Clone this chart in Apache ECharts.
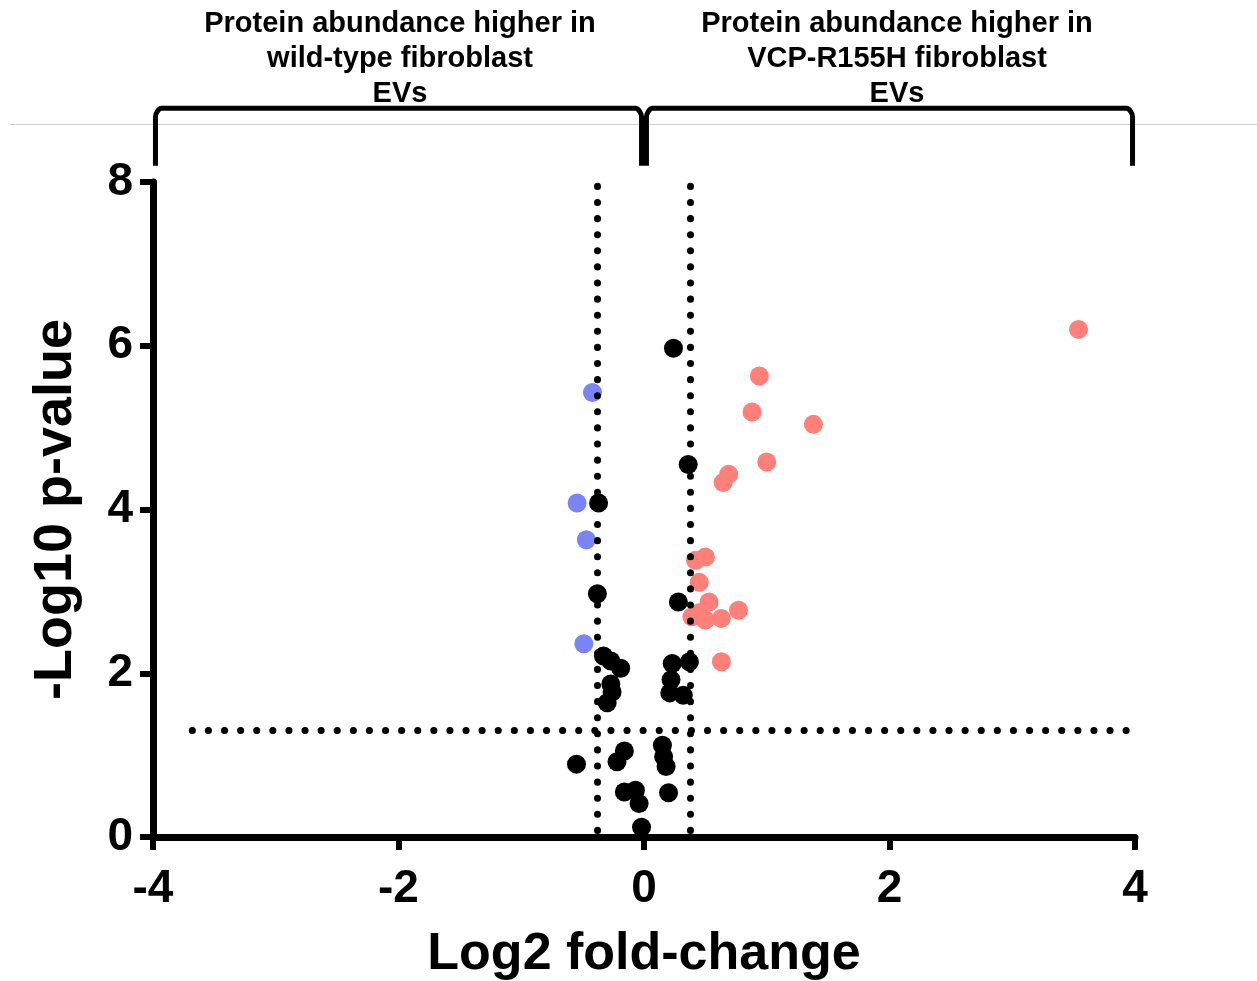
<!DOCTYPE html>
<html>
<head>
<meta charset="utf-8">
<script src="https://cdn.jsdelivr.net/npm/echarts@6/dist/echarts.min.js"></script>
<style>
  html, body { margin: 0; padding: 0; background: #ffffff; }
  #chart { width: 1257px; height: 981px; }
</style>
</head>
<body>
<div id="chart"></div>
<script>
// log2 fold-change / -log10 p-value
const upVCP = [
  [3.54, 6.20], [0.94, 5.63], [0.88, 5.19], [1.38, 5.04], [1.00, 4.58],
  [0.69, 4.43], [0.645, 4.33], [0.50, 3.42], [0.42, 3.38], [0.45, 3.11],
  [0.53, 2.87], [0.45, 2.74], [0.50, 2.65], [0.63, 2.67], [0.77, 2.77],
  [0.39, 2.69], [0.63, 2.14]
];
const upWT = [
  [-0.42, 5.43], [-0.545, 4.08], [-0.47, 3.63], [-0.49, 2.36]
];
const notSig = [
  [0.24, 5.97], [0.36, 4.55], [-0.37, 4.08], [-0.38, 2.97], [0.28, 2.87],
  [-0.33, 2.21], [-0.27, 2.15], [-0.19, 2.06], [-0.27, 1.87], [-0.26, 1.77],
  [-0.30, 1.64], [0.23, 2.12], [0.37, 2.14], [0.22, 1.92], [0.21, 1.76],
  [0.32, 1.73], [-0.55, 0.89], [-0.16, 1.05], [-0.22, 0.92], [-0.16, 0.55],
  [-0.07, 0.57], [-0.04, 0.41], [-0.02, 0.12], [0.15, 1.12], [0.16, 0.98],
  [0.18, 0.86], [0.20, 0.54]
];
// thresholds: fold-change 1.3 and p = 0.05
const fcCut = 0.378;
const pCut = 1.301;
const xTicks = [-4, 4, 2];   // min, max, interval
const yTicks = [0, 8, 2];

const leftHeader = 'Protein abundance higher in\nwild-type fibroblast\nEVs';
const rightHeader = 'Protein abundance higher in\nVCP-R155H fibroblast\nEVs';

const font = '"Liberation Sans", Arial, Helvetica, sans-serif';
const chart = echarts.init(document.getElementById('chart'), null, { renderer: 'canvas' });

const dotted = {
  color: '#000',
  width: 7,
  type: [0.1, 16],
  cap: 'round'
};

// bracket shapes in data units (above the plot)
const bTop = 8.9, bLow = 8.2;
const leftBracket = [[-3.98, bLow], [-3.98, bTop - 0.1], [-3.93, bTop], [-0.07, bTop], [-0.02, bTop - 0.1], [-0.02, bLow]];
const rightBracket = [[0.02, bLow], [0.02, bTop - 0.1], [0.07, bTop], [3.93, bTop], [3.98, bTop - 0.1], [3.98, bLow]];

chart.setOption({
  animation: false,
  backgroundColor: '#ffffff',
  textStyle: { fontFamily: font },
  title: [
    {
      text: leftHeader,
      left: 395, top: 1, textAlign: 'center',
      textStyle: { fontSize: 29, fontWeight: 'bold', lineHeight: 35, color: '#000', fontFamily: font }
    },
    {
      text: rightHeader,
      left: 892, top: 1, textAlign: 'center',
      textStyle: { fontSize: 29, fontWeight: 'bold', lineHeight: 35, color: '#000', fontFamily: font }
    }
  ],
  graphic: [
    { type: 'rect', left: 10, top: 124, shape: { width: 1247, height: 1 }, style: { fill: '#cfcfcf' }, z: 0 }
  ],
  grid: { left: 153, right: 122, top: 182, bottom: 144, containLabel: false, outerBoundsMode: 'none' },
  xAxis: {
    type: 'value',
    min: xTicks[0], max: xTicks[1], interval: xTicks[2],
    name: 'Log2 fold-change',
    nameLocation: 'middle',
    nameGap: 92,
    nameTextStyle: { fontSize: 52, fontWeight: 'bold', color: '#000', fontFamily: font },
    axisLine: { onZero: false, lineStyle: { color: '#000', width: 7 } },
    axisTick: { length: 13, lineStyle: { color: '#000', width: 6 } },
    axisLabel: { fontSize: 46, fontWeight: 'bold', color: '#000', margin: 29, fontFamily: font },
    splitLine: { show: false }
  },
  yAxis: {
    type: 'value',
    min: yTicks[0], max: yTicks[1], interval: yTicks[2],
    name: '-Log10 p-value',
    nameLocation: 'middle',
    nameGap: 70,
    nameTextStyle: { fontSize: 54, fontWeight: 'bold', color: '#000', fontFamily: font },
    axisLine: { onZero: false, lineStyle: { color: '#000', width: 7 } },
    axisTick: { length: 13, lineStyle: { color: '#000', width: 6 } },
    axisLabel: { fontSize: 46, fontWeight: 'bold', color: '#000', margin: 20, fontFamily: font },
    splitLine: { show: false }
  },
  series: [
    {
      name: 'thresholds',
      type: 'scatter',
      data: [],
      z: 1,
      markLine: {
        silent: true,
        symbol: ['none', 'none'],
        label: { show: false },
        lineStyle: dotted,
        data: [
          [{ coord: [-fcCut, 0.08] }, { coord: [-fcCut, 8] }],
          [{ coord: [fcCut, 0.08] }, { coord: [fcCut, 8] }],
          [{ coord: [-3.68, pCut] }, { coord: [3.96, pCut] }]
        ]
      }
    },
    {
      name: 'bracketL',
      type: 'line',
      data: leftBracket,
      clip: false,
      symbol: 'none',
      smooth: 0.3,
      lineStyle: { color: '#000', width: 5, join: 'round' },
      z: 2
    },
    {
      name: 'bracketR',
      type: 'line',
      data: rightBracket,
      clip: false,
      symbol: 'none',
      smooth: 0.3,
      lineStyle: { color: '#000', width: 5, join: 'round' },
      z: 2
    },
    {
      name: 'not significant',
      type: 'scatter',
      data: notSig,
      symbolSize: 19,
      itemStyle: { color: '#000000', opacity: 1 },
      z: 3
    },
    {
      name: 'higher in WT',
      type: 'scatter',
      data: upWT,
      symbolSize: 19,
      itemStyle: { color: '#7B84F7', opacity: 1 },
      z: 4
    },
    {
      name: 'higher in VCP-R155H',
      type: 'scatter',
      data: upVCP,
      symbolSize: 19,
      itemStyle: { color: '#FF7F79', opacity: 1 },
      z: 4
    }
  ]
});
</script>
</body>
</html>
